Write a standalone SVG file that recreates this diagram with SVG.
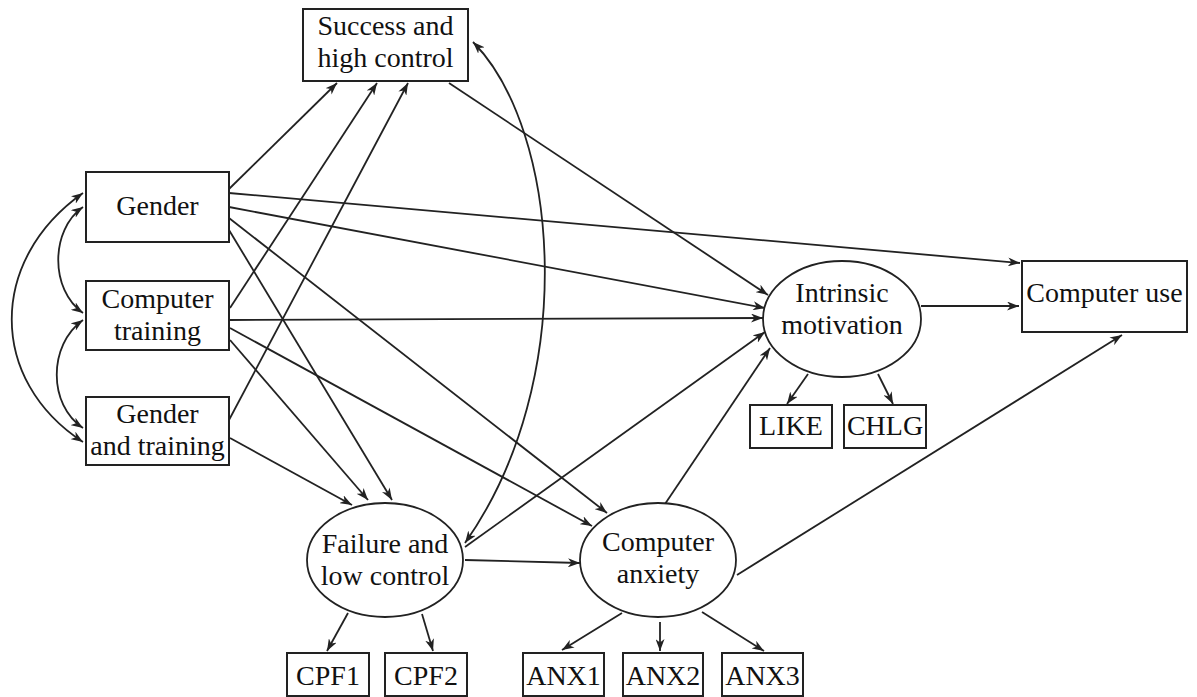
<svg xmlns="http://www.w3.org/2000/svg" width="1197" height="697" viewBox="0 0 1197 697">
<style>
.box{fill:#fff;stroke:#222;stroke-width:2}
.ell{fill:#fff;stroke:#222;stroke-width:1.8}
.t{font-family:"Liberation Serif","Times New Roman",serif;font-size:28px;fill:#111;text-anchor:middle}
.c{fill:none;stroke:#222;stroke-width:1.8;marker-end:url(#ah)}
.d{fill:none;stroke:#222;stroke-width:1.8;marker-start:url(#ah);marker-end:url(#ah)}
</style>
<defs>
<marker id="ah" markerUnits="userSpaceOnUse" markerWidth="13" markerHeight="9" refX="12" refY="4.5" orient="auto-start-reverse">
<path d="M0,0 L12,4.5 L0,9 L3.5,4.5 z" fill="#222"/>
</marker>
</defs>
<rect width="1197" height="697" fill="#fff"/>
<g id="connectors">
<line class="c" x1="229" y1="189" x2="337" y2="83"/>
<line class="c" x1="230" y1="308" x2="377" y2="83"/>
<line class="c" x1="229" y1="420" x2="408" y2="83"/>
<line class="c" x1="229" y1="193" x2="1020" y2="263"/>
<line class="c" x1="229" y1="207" x2="765" y2="308"/>
<line class="c" x1="229" y1="218" x2="607" y2="513"/>
<line class="c" x1="229" y1="230" x2="392" y2="500"/>
<line class="c" x1="230" y1="320" x2="763" y2="318"/>
<line class="c" x1="230" y1="328" x2="592" y2="526"/>
<line class="c" x1="230" y1="340" x2="368" y2="500"/>
<line class="c" x1="230" y1="438" x2="352" y2="505"/>
<line class="c" x1="449" y1="83" x2="768" y2="295"/>
<line class="c" x1="465" y1="547" x2="765" y2="332"/>
<line class="c" x1="465" y1="560" x2="580" y2="563"/>
<line class="c" x1="665" y1="504" x2="770" y2="348"/>
<line class="c" x1="737" y1="575" x2="1122" y2="335"/>
<line class="c" x1="921" y1="306" x2="1019" y2="306"/>
<line class="c" x1="808" y1="374" x2="787" y2="404"/>
<line class="c" x1="878" y1="374" x2="893" y2="404"/>
<line class="c" x1="348" y1="613" x2="327" y2="651"/>
<line class="c" x1="422" y1="614" x2="433" y2="651"/>
<line class="c" x1="622" y1="613" x2="562" y2="650"/>
<line class="c" x1="660" y1="622" x2="660" y2="651"/>
<line class="c" x1="702" y1="612" x2="764" y2="651"/>
<path class="d" d="M473,42 C560,130 580,380 465,543"/>
<path class="d" d="M83,207 C50,230 50,290 83,313"/>
<path class="d" d="M83,320 C48,345 48,405 83,428"/>
<path class="d" d="M83,193 C-12,260 -12,380 83,442"/>
</g>
<g id="success">
<rect class="box" x="303" y="9" width="165" height="72"/>
<text class="t" x="385.5" y="35">Success and</text>
<text class="t" x="385.5" y="67">high control</text>
</g>
<g id="gender">
<rect class="box" x="86" y="172" width="143" height="70"/>
<text class="t" x="157.5" y="215">Gender</text>
</g>
<g id="training">
<rect class="box" x="86" y="281" width="143" height="69"/>
<text class="t" x="157.5" y="308">Computer</text>
<text class="t" x="157.5" y="340">training</text>
</g>
<g id="gendertraining">
<rect class="box" x="86" y="397" width="143" height="68"/>
<text class="t" x="157.5" y="423">Gender</text>
<text class="t" x="157.5" y="455">and training</text>
</g>
<g id="failure">
<ellipse class="ell" cx="385" cy="560" rx="78" ry="57"/>
<text class="t" x="385" y="553">Failure and</text>
<text class="t" x="385" y="585">low control</text>
</g>
<g id="anxiety">
<ellipse class="ell" cx="658" cy="560" rx="78" ry="57"/>
<text class="t" x="658" y="551">Computer</text>
<text class="t" x="658" y="583">anxiety</text>
</g>
<g id="intrinsic">
<ellipse class="ell" cx="842" cy="319" rx="79" ry="58"/>
<text class="t" x="842" y="302">Intrinsic</text>
<text class="t" x="842" y="334">motivation</text>
</g>
<g id="use">
<rect class="box" x="1022" y="261" width="165" height="71"/>
<text class="t" x="1104.5" y="302">Computer use</text>
</g>
<g id="like">
<rect class="box" x="750" y="405" width="82" height="43"/>
<text class="t" x="791" y="435">LIKE</text>
</g>
<g id="chlg">
<rect class="box" x="844" y="405" width="82" height="43"/>
<text class="t" x="885" y="435">CHLG</text>
</g>
<g id="cpf1">
<rect class="box" x="287" y="653" width="82" height="43"/>
<text class="t" x="328" y="685">CPF1</text>
</g>
<g id="cpf2">
<rect class="box" x="385" y="653" width="82" height="43"/>
<text class="t" x="426" y="685">CPF2</text>
</g>
<g id="anx1">
<rect class="box" x="523" y="653" width="81" height="43"/>
<text class="t" x="563.5" y="685">ANX1</text>
</g>
<g id="anx2">
<rect class="box" x="623" y="653" width="80" height="43"/>
<text class="t" x="663" y="685">ANX2</text>
</g>
<g id="anx3">
<rect class="box" x="722" y="653" width="81" height="43"/>
<text class="t" x="762.5" y="685">ANX3</text>
</g>
</svg>
